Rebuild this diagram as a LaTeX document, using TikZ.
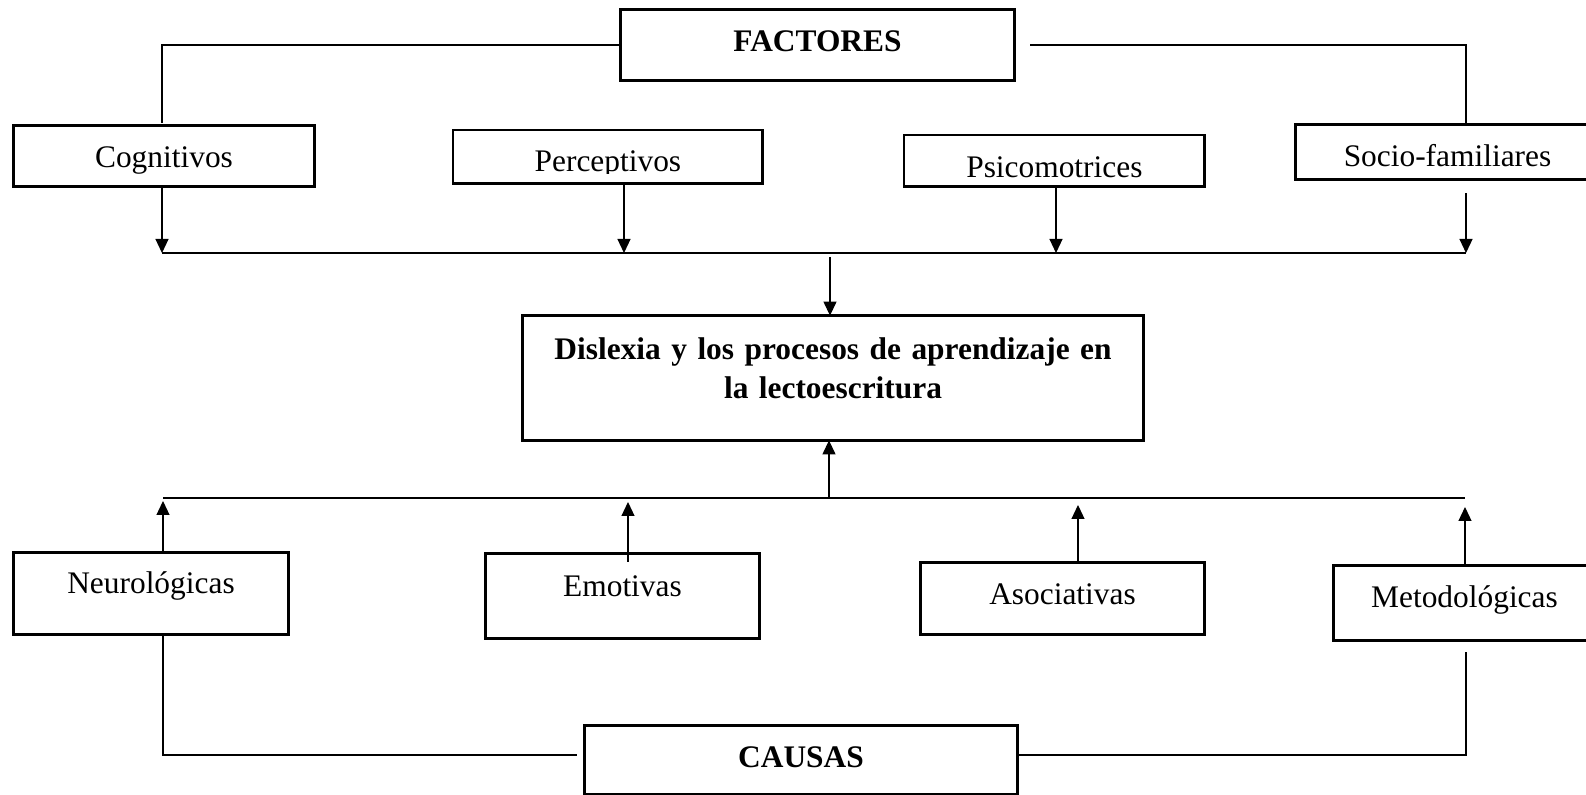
\documentclass[tikz,border=0pt]{standalone}
\usepackage{fontspec}
\setmainfont{Liberation Serif}
\usepackage{tikz}
\usetikzlibrary{arrows.meta}
\tikzset{%
  >={Triangle[length=7pt,width=6.5pt]},
  txt/.style={font=\fontsize{15.7}{19}\selectfont},
  box/.style={rectangle,inner sep=0pt,anchor=base,txt},
  bbox/.style={box,font=\fontsize{15.7}{19.5}\selectfont\bfseries},
  frame/.style={draw,line width=1.45pt},
  cutbox/.style={rectangle,inner sep=0pt,anchor=north west},
  lbl/.style={inner sep=0pt,anchor=base,txt},
  line/.style={draw,line width=0.6pt},
  arr/.style={line,->}
}

\begin{document}
\begin{tikzpicture}[x=0.5pt,y=-0.5pt]
	\useasboundingbox (0,0) rectangle (1586,795);
	% factores
	\node[bbox,minimum width=196.5pt,text height=21pt,text depth=14pt] (fact) at (817.5,52) {FACTORES};
	\node[box,minimum width=150pt,text height=21pt,text depth=9pt] (cog) at (164,168) {Cognitivos};
	\node[cutbox,minimum width=154.5pt,minimum height=26.5pt,path picture={%
		\clip (path picture bounding box.north west) rectangle ([yshift=5pt]path picture bounding box.south east);
		\node[lbl] (perc-txt) at ([yshift=6pt]path picture bounding box.south) {Perceptivos};}] (perc) at (453,130) {};
	\node[cutbox,minimum width=150pt,minimum height=25.5pt,path picture={%
		\clip (path picture bounding box.north west) rectangle ([yshift=4pt]path picture bounding box.south east);
		\node[lbl] (psi-txt) at ([yshift=4.5pt]path picture bounding box.south) {Psicomotrices};}] (psi) at (904,135) {};
	\node[box,minimum width=151.5pt,text height=21pt,text depth=6pt] (soc) at (1447.5,167) {Socio-familiares};
	% centro
	\node[bbox,text width=310pt,align=center,text height=22pt,text depth=40pt] (dis) at (833,360)
		{Dislexia y los procesos de aprendizaje en\\ la lectoescritura};
	% causas
	\node[box,minimum width=137pt,text height=20.5pt,text depth=20pt] (neu) at (151,594) {Neurológicas};
	\node[box,minimum width=136.5pt,text height=21.5pt,text depth=20.5pt] (emo) at (622.5,597) {Emotivas};
	\node[box,minimum width=141.5pt,text height=21pt,text depth=14.5pt] (aso) at (1062.5,605) {Asociativas};
	\node[box,minimum width=130.5pt,text height=21pt,text depth=16pt] (met) at (1464.5,608) {Metodológicas};
	\node[bbox,minimum width=216pt,text height=21pt,text depth=13pt] (cau) at (801,768) {CAUSAS};

	\foreach \n in {fact,cog,perc,psi,soc,dis,neu,emo,aso,met,cau}
		\draw[frame] (\n.south west) rectangle (\n.north east);

	\coordinate (b1) at (162,253);
	\coordinate (b2) at (624,253);
	\coordinate (b3) at (1056,253);
	\coordinate (b4) at (1466,253);
	\coordinate (bc) at (830,253);
	\coordinate (c1) at (163,498);
	\coordinate (c2) at (628,498);
	\coordinate (c3) at (1078,498);
	\coordinate (c4) at (1465,498);
	\coordinate (cc) at (829,498);
	\coordinate (dl) at (163,755);
	\coordinate (dr) at (1466,755);

	\draw[line,shorten >=1.5pt] (fact.west) -| (cog.north -| b1);
	\draw[line,shorten <=8pt] (fact.east) -| (soc.north -| b4);
	\draw[arr] (cog.south -| b1) -- (b1);
	\draw[arr] (perc.south -| b2) -- (b2);
	\draw[arr] (psi.south -| b3) -- (b3);
	\draw[arr,shorten <=7pt] (soc.south -| b4) -- (b4);
	\draw[line] (b1) -- (b4);
	\draw[arr,shorten <=2pt] (bc) -- (dis.north -| bc);

	\draw[line] (c1) -- (c4);
	\draw[arr] (cc) -- (dis.south -| cc);
	\draw[arr,shorten >=1.5pt] (neu.north -| c1) -- (c1);
	\draw[arr,shorten <=-4pt,shorten >=2pt] (emo.north -| c2) -- (c2);
	\draw[arr,shorten >=3.5pt] (aso.north -| c3) -- (c3);
	\draw[arr,shorten >=4.5pt] (met.north -| c4) -- (c4);
	\draw[line,shorten >=4pt] (neu.south -| dl) |- (cau.west |- dl);
	\draw[line,shorten <=6pt] (met.south -| dr) |- (cau.east |- dr);
\end{tikzpicture}
\end{document}
